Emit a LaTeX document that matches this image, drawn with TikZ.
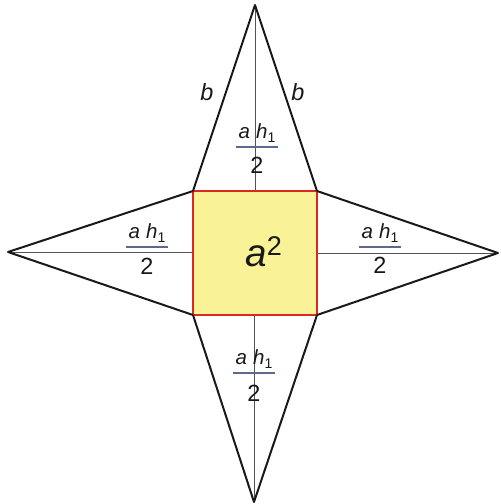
\documentclass[tikz,border=0pt]{standalone}
\usepackage{fontspec}
\setmainfont{Liberation Sans}
\usetikzlibrary{calc}
\definecolor{sqfill}{RGB}{250,242,150}
\definecolor{sqedge}{RGB}{220,40,30}
\definecolor{barcol}{RGB}{90,105,140}
\definecolor{ink}{RGB}{25,25,25}
\tikzset{
  outline/.style={draw=ink, line width=1.7pt, line join=round},
  heightline/.style={draw=ink!75, line width=0.8pt},
  square/.style={fill=sqfill, draw=sqedge, line width=1.2pt},
  numtxt/.style={inner sep=0pt, text=ink, font=\fontsize{17.5}{17.5}\selectfont},
  dentxt/.style={inner sep=0pt, text=ink, font=\fontsize{20}{20}\selectfont},
  blbl/.style={inner sep=0pt, text=ink, font=\fontsize{20}{20}\selectfont\itshape},
  fracbar/.style={draw=barcol, line width=1.6pt},
}
\newcommand\ahhalf[4]{% name, x, y of bar, offset of the 2
  \node[numtxt] (#1n) at (#2,#3-14) {\textit{a}\hspace{0.3em}\textit{h}\raisebox{-0.3ex}{\fontsize{12}{12}\selectfont 1}};
  \coordinate (#1l) at (#2-21,#3);
  \coordinate (#1r) at (#2+21,#3);
  \draw[fracbar] (#1l) -- (#1r);
  \node[dentxt] (#1d) at (#2,#3+#4) {2};
}
\begin{document}
\begin{tikzpicture}[x=0.03cm, y=-0.03cm]
\useasboundingbox (0,0) rectangle (500,504);
% corners of the square
\coordinate (A) at (193,191);
\coordinate (B) at (317,191);
\coordinate (C) at (317,315);
\coordinate (D) at (193,315);
% apexes
\coordinate (T) at (255,5);
\coordinate (Bo) at (254,502);
\coordinate (L) at (8,252);
\coordinate (R) at (498,253);
% mid-points of the square sides
\coordinate (mT) at (255,191);
\coordinate (mB) at (254,315);
\coordinate (mL) at (193,252);
\coordinate (mR) at (317,253);
% heights
\draw[heightline] (T) -- (mT);
\draw[heightline] (Bo) -- (mB);
\draw[heightline] (L) -- (mL);
\draw[heightline] (R) -- (mR);
% square
\draw[square] (A) -- (B) -- (C) -- (D) -- cycle;
% triangles
\draw[outline] (A) -- (T) -- (B);
\draw[outline] (B) -- (R) -- (C);
\draw[outline] (C) -- (Bo) -- (D);
\draw[outline] (D) -- (L) -- (A);
% labels
\node[inner sep=0pt, text=ink, font=\fontsize{33}{33}\selectfont] (area) at (264,252) {\textit{a}\textsuperscript{2}};
\node[blbl] (b1) at (207,92) {b};
\node[blbl] (b2) at (298,92) {b};
\ahhalf{ft}{257}{147}{18}
\ahhalf{fl}{147}{247}{19}
\ahhalf{fr}{380}{247}{18}
\ahhalf{fb}{254}{373}{20}
\end{tikzpicture}
\end{document}
